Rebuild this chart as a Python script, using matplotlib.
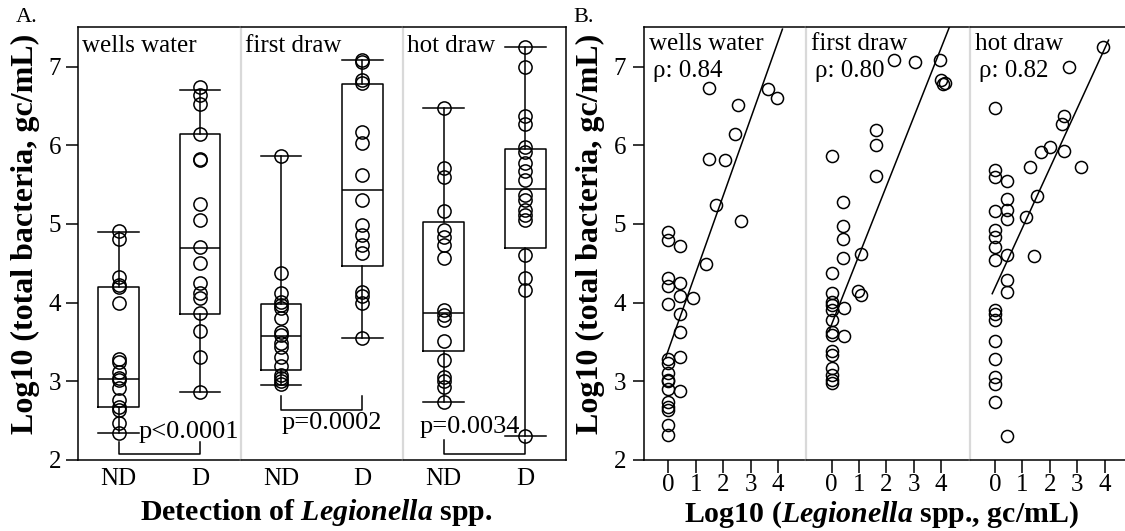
import matplotlib
matplotlib.use("Agg")
import numpy as np
import matplotlib.pyplot as plt

plt.rcParams['font.family'] = ['Liberation Serif', 'DejaVu Serif']
plt.rcParams['mathtext.fontset'] = 'custom'
plt.rcParams['mathtext.it'] = 'Liberation Serif:bold:italic'
plt.rcParams['mathtext.rm'] = 'Liberation Serif:bold'
plt.rcParams['mathtext.bf'] = 'Liberation Serif:bold'

groups = ['wells water', 'first draw', 'hot draw']
categories = ['ND', 'D']

# panel A: log10 total bacteria by Legionella detection
wells_nd = [4.91, 4.81, 4.32, 4.23, 4.20, 3.99, 3.29, 3.25, 3.12, 3.04, 3.02, 2.91,
            2.76, 2.68, 2.64, 2.47, 2.34]
wells_d = [6.74, 6.64, 6.53, 6.15, 5.82, 5.81, 5.25, 5.05, 4.71, 4.50, 4.25, 4.12,
           4.06, 3.87, 3.64, 3.31, 2.87]
first_nd = [5.86, 4.38, 4.12, 4.01, 3.97, 3.93, 3.80, 3.63, 3.59, 3.49, 3.44, 3.31,
            3.19, 3.08, 3.04, 3.00, 2.96]
first_d = [7.09, 7.06, 6.83, 6.79, 6.17, 6.03, 5.62, 5.31, 4.99, 4.86, 4.73, 4.63,
           4.14, 4.08, 3.99, 3.55]
hot_nd = [6.48, 5.71, 5.60, 5.16, 4.92, 4.84, 4.73, 4.57, 3.91, 3.84, 3.78, 3.51,
          3.27, 3.06, 3.00, 2.93, 2.74]
hot_d = [7.25, 7.00, 6.37, 6.27, 5.98, 5.92, 5.77, 5.67, 5.56, 5.37, 5.31, 5.18,
         5.12, 5.05, 4.61, 4.31, 4.16, 2.30]

# box stats: whislo, q1, median, q3, whishi
wells_nd_box = [2.34, 2.67, 3.03, 4.20, 4.90]
wells_d_box = [2.87, 3.85, 4.70, 6.15, 6.70]
first_nd_box = [2.95, 3.15, 3.57, 3.98, 5.86]
first_d_box = [3.55, 4.46, 5.43, 6.78, 7.09]
hot_nd_box = [2.74, 3.39, 3.87, 5.03, 6.48]
hot_d_box = [2.30, 4.70, 5.44, 5.95, 7.25]

p_labels = ['p<0.0001', 'p=0.0002', 'p=0.0034']

# panel B: log10 Legionella vs log10 total bacteria
wells_x = [0, 0, 0.43, 0, 0, 0.43, 0, 0.43, 0.91, 0.43, 0.43, 0.43, 0, 0, 0, 0, 0,
           0.43, 0, 0, 0, 0, 0, 0, 1.36, 1.73, 1.49, 2.07, 1.49, 2.43, 2.53, 2.65,
           3.63, 3.96]
wells_y = [4.90, 4.80, 4.72, 4.31, 4.21, 4.25, 3.98, 4.08, 4.06, 3.85, 3.63, 3.31,
           3.28, 3.23, 3.11, 3.02, 3.00, 2.88, 2.90, 2.74, 2.67, 2.63, 2.45, 2.32,
           4.49, 5.24, 5.82, 5.81, 6.73, 6.15, 6.51, 5.04, 6.71, 6.60]
first_x = [2.27, 3.04, 3.95, 3.98, 4.05, 4.15, 1.62, 1.62, 1.64, 0, 0.42, 0.42, 0.42,
           0.42, 1.09, 0, 0.97, 1.06, 0, 0, 0, 0, 0.44, 0, 0, 0, 0.44, 0, 0, 0, 0,
           0, 0]
first_y = [7.08, 7.06, 7.08, 6.83, 6.78, 6.79, 6.19, 6.00, 5.61, 5.87, 5.28, 4.98,
           4.81, 4.57, 4.62, 4.38, 4.15, 4.10, 4.12, 4.01, 3.97, 3.91, 3.93, 3.78,
           3.63, 3.59, 3.57, 3.38, 3.34, 3.17, 3.08, 3.02, 2.98]
hot_x = [3.94, 2.69, 0, 2.50, 2.44, 2.01, 1.67, 2.50, 3.14, 1.28, 0, 0, 0.45, 0.45,
         1.53, 0, 0.45, 0.45, 1.14, 0, 0, 0, 0, 0.45, 1.44, 0.45, 0.45, 0, 0, 0, 0,
         0, 0, 0, 0, 0.45]
hot_y = [7.25, 6.99, 6.48, 6.37, 6.27, 5.98, 5.92, 5.93, 5.72, 5.72, 5.69, 5.60,
         5.55, 5.32, 5.35, 5.16, 5.18, 5.06, 5.09, 4.92, 4.83, 4.71, 4.54, 4.61,
         4.59, 4.29, 4.14, 3.91, 3.85, 3.78, 3.51, 3.28, 3.06, 2.97, 2.74, 2.31]
rho_labels = ['ρ: 0.84', 'ρ: 0.80', 'ρ: 0.82']
fit_intercept = [3.40, 3.72, 4.19]
fit_slope = [0.98, 0.88, 0.76]

points_a = [(wells_nd, wells_d), (first_nd, first_d), (hot_nd, hot_d)]
boxes_a = [(wells_nd_box, wells_d_box), (first_nd_box, first_d_box), (hot_nd_box, hot_d_box)]
points_b = [(wells_x, wells_y), (first_x, first_y), (hot_x, hot_y)]

W, H = 1125, 531
fig = plt.figure(figsize=(W / 100, H / 100), dpi=100)
y_bot, y_top = 460, 27.3
sep_color = '#d9d9d9'


def make_axes(x0, x1):
    return fig.add_axes([x0 / W, 1 - y_bot / H, (x1 - x0) / W, (y_bot - y_top) / H])


def style_facet(ax, i, last_right=True):
    ax.set_ylim(2, 7.5)
    for s in ['top', 'bottom', 'left', 'right']:
        ax.spines[s].set_linewidth(1.1)
        ax.spines[s].set_color('black')
    if i > 0:
        ax.spines['left'].set_color(sep_color)
        ax.spines['left'].set_linewidth(1.6)
        ax.tick_params(axis='y', left=False, labelleft=False)
    if i < 2 or not last_right:
        ax.spines['right'].set_visible(False)
    ax.set_yticks([2, 3, 4, 5, 6, 7])


# ---- panel A ----
edges_a = [78, 240.5, 403, 566]
bracket = [(2.23, 2.07), (2.81, 2.63), (2.26, 2.08)]
p_pos = [(0.25, 2.28), (0.01, 2.40), (-0.30, 2.34)]
for i in range(3):
    ax = make_axes(edges_a[i], edges_a[i + 1])
    style_facet(ax, i)
    ax.set_xlim(-0.5, 1.5)
    stats = []
    for b in boxes_a[i]:
        stats.append(dict(whislo=b[0], q1=b[1], med=b[2], q3=b[3], whishi=b[4]))
    lp = dict(color='black', linewidth=1.1)
    ax.bxp(stats, positions=[0, 1], widths=0.5, capwidths=0.5, showfliers=False,
           boxprops=lp, whiskerprops=lp, capprops=lp, medianprops=lp)
    for k, vals in enumerate(points_a[i]):
        ax.plot([k] * len(vals), vals, 'o', mfc='none', mec='black', ms=9.5, mew=1.1)
    top, base = bracket[i]
    ax.plot([0, 0, 1, 1], [top, base, base, top], color='black', lw=1.1)
    ax.text(p_pos[i][0], p_pos[i][1], p_labels[i], fontsize=19, va='baseline')
    ax.text(0.025, (y_bot - 52) / (y_bot - y_top), groups[i], transform=ax.transAxes,
            fontsize=18, va='baseline')
    ax.set_xticks([0, 1])
    ax.set_xticklabels(categories)
    ax.tick_params(axis='x', length=0, pad=6, labelsize=18)
    ax.tick_params(axis='y', length=9, width=1.1, pad=3, labelsize=18)

# ---- panel B ----
edges_b = [644, 806, 970, 1125]
xlims_b = [(-0.89, 5.02), (-0.93, 5.05), (-0.91, 4.74)]
for i in range(3):
    ax = make_axes(edges_b[i], edges_b[i + 1])
    style_facet(ax, i, last_right=False)
    ax.set_xlim(*xlims_b[i])
    xs, ys = points_b[i]
    ax.plot(xs, ys, 'o', mfc='none', mec='black', ms=8.7, mew=1.1)
    xl = np.array([min(xs) - 0.1, max(xs) + 0.2])
    ax.plot(xl, fit_intercept[i] + fit_slope[i] * xl, color='black', lw=1.1)
    ax.text(0.03, (y_bot - 50) / (y_bot - y_top), groups[i], transform=ax.transAxes,
            fontsize=18, va='baseline')
    ax.text(0.055, (y_bot - 77) / (y_bot - y_top), rho_labels[i], transform=ax.transAxes,
            fontsize=18, va='baseline')
    ax.set_xticks([0, 1, 2, 3, 4])
    ax.tick_params(axis='x', length=9, width=1.1, pad=1, labelsize=18)
    ax.tick_params(axis='y', length=8, width=1.1, pad=5, labelsize=18)

ylab = 'Log10 (total bacteria, gc/mL)'
fig.text(25.5 / W, 1 - 234 / H, ylab, rotation=90, fontsize=23, fontweight='bold',
         ha='center', va='center')
fig.text(590.5 / W, 1 - 234 / H, ylab, rotation=90, fontsize=23, fontweight='bold',
         ha='center', va='center')
fig.text(316 / W, 1 - 512 / H, r'Detection of $\mathit{Legionella}$ spp.', fontsize=21.5,
         fontweight='bold', ha='center', va='center')
fig.text(881 / W, 1 - 515 / H, r'Log10 ($\mathit{Legionella}$ spp., gc/mL)', fontsize=21.5,
         fontweight='bold', ha='center', va='center')
fig.text(27 / W, 1 - 18 / H, 'A.', fontsize=16, ha='center', va='center')
fig.text(584 / W, 1 - 17 / H, 'B.', fontsize=16, ha='center', va='center')

fig.savefig('out.png', dpi=100)
